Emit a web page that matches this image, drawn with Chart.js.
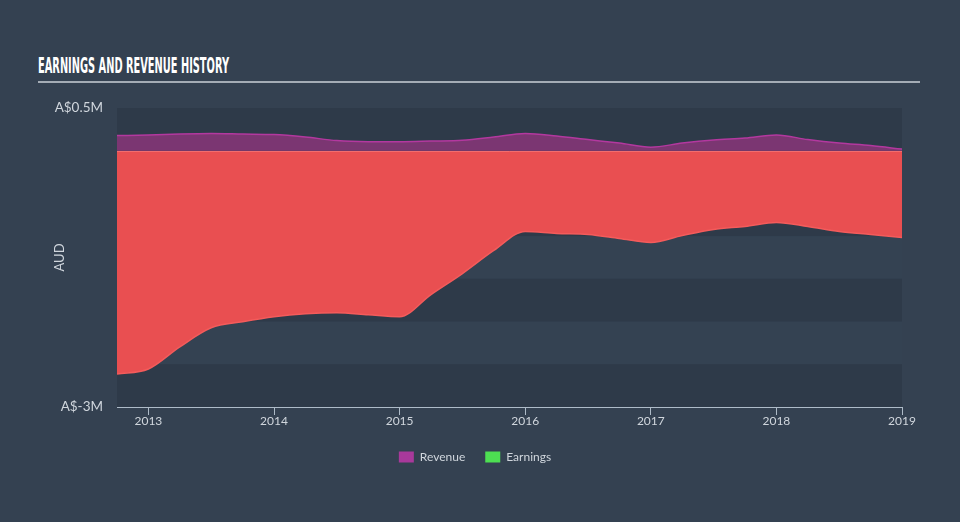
<!DOCTYPE html>
<html>
<head>
<meta charset="utf-8">
<script src="https://cdn.jsdelivr.net/npm/chart.js@4/dist/chart.umd.min.js"></script>
<style>
  html, body { margin: 0; padding: 0; background: #344151; width: 960px; height: 522px; overflow: hidden; }
  #wrap { position: relative; width: 960px; height: 522px; }
  #title { position: absolute; left: 38px; top: 55px; color: #ffffff; font-family: "Liberation Sans Narrow", "DejaVu Sans Condensed", sans-serif; font-weight: bold; font-size: 21px; line-height: 22px; white-space: nowrap; transform-origin: 0 0; }
  #rule { position: absolute; left: 38px; top: 81px; width: 882px; height: 2px; background: #a4acb5; }
  canvas { position: absolute; left: 0; top: 0; }
</style>
</head>
<body>
<div id="wrap">
  <div id="title">EARNINGS AND REVENUE HISTORY</div>
  <div id="rule"></div>
  <canvas id="c" width="960" height="522"></canvas>
</div>
<script>
// ---- data (A$ millions) ----
const periods = [2012.75, 2013.0, 2013.25, 2013.5, 2013.75, 2014.0, 2014.25, 2014.5, 2014.75, 2015.0, 2015.25, 2015.5, 2015.75, 2016.0, 2016.25, 2016.5, 2016.75, 2017.0, 2017.25, 2017.5, 2017.75, 2018.0, 2018.25, 2018.5, 2018.75, 2019.0];
const revenue = [0.177, 0.183, 0.195, 0.201, 0.195, 0.189, 0.160, 0.119, 0.106, 0.105, 0.113, 0.123, 0.160, 0.201, 0.172, 0.130, 0.089, 0.042, 0.089, 0.125, 0.148, 0.183, 0.130, 0.089, 0.060, 0.019];
const earnings = [-2.613, -2.555, -2.296, -2.073, -2.002, -1.943, -1.908, -1.896, -1.920, -1.943, -1.684, -1.438, -1.168, -0.945, -0.969, -0.980, -1.027, -1.074, -0.992, -0.921, -0.886, -0.839, -0.886, -0.945, -0.980, -1.015];
const xTickYears = [2013, 2014, 2015, 2016, 2017, 2018, 2019];
const yTickValues = [0.5, -3];
const yTickLabels = ['A$0.5M', 'A$-3M'];
const seriesNames = ['Revenue', 'Earnings'];
const legendColors = ['#a8399b', '#4ddf52'];

// fit title width
(function () {
  const t = document.getElementById('title');
  const w = t.getBoundingClientRect().width;
  t.style.transform = 'scaleX(' + (191 / w) + ')';
})();

const bandPlugin = {
  id: 'bands',
  beforeDatasetsDraw(chart) {
    const { ctx, chartArea, scales } = chart;
    const y = scales.y;
    ctx.save();
    let i = 0;
    for (let v = 0.5; v > -3; v -= 0.5, i++) {
      const top = y.getPixelForValue(v);
      const bot = y.getPixelForValue(v - 0.5);
      ctx.fillStyle = (i % 2 === 0) ? '#2e3a49' : '#344252';
      ctx.fillRect(chartArea.left, top, chartArea.right - chartArea.left, bot - top);
    }
    ctx.restore();
  },
  afterDatasetsDraw(chart) {
    const { ctx, chartArea, scales } = chart;
    const y0 = Math.round(scales.y.getPixelForValue(0)) + 0.5;
    ctx.save();
    ctx.strokeStyle = '#f26d6d';
    ctx.lineWidth = 1;
    ctx.beginPath();
    ctx.moveTo(chartArea.left, y0);
    ctx.lineTo(chartArea.right, y0);
    ctx.stroke();
    ctx.restore();
  }
};

const legendShift = {
  id: 'legendShift',
  afterLayout(chart) {
    const lg = chart.legend;
    if (lg) { lg.left += 24; lg.right += 24; }
  }
};

const tickFont = { family: 'Lato, "Open Sans", sans-serif', size: 12 };
const yTickFont = { family: 'Lato, "Open Sans", sans-serif', size: 13.5 };

new Chart(document.getElementById('c'), {
  type: 'line',
  data: {
    datasets: [
      {
        label: seriesNames[0],
        data: periods.map((p, i) => ({ x: p, y: revenue[i] })),
        borderColor: '#b3389f',
        backgroundColor: '#7b3672',
        borderWidth: 1.5,
        fill: 'origin',
        pointRadius: 0,
        tension: 0.4,
        cubicInterpolationMode: 'monotone'
      },
      {
        label: seriesNames[1],
        data: periods.map((p, i) => ({ x: p, y: earnings[i] })),
        borderColor: '#f45b5b',
        backgroundColor: '#e94f51',
        borderWidth: 1.5,
        fill: 'origin',
        pointRadius: 0,
        tension: 0.4,
        cubicInterpolationMode: 'monotone'
      }
    ]
  },
  options: {
    responsive: false,
    devicePixelRatio: 1,
    animation: false,
    layout: { padding: { top: 108, right: 58, left: 0, bottom: 49 } },
    plugins: {
      tooltip: { enabled: false },
      title: { display: false },
      legend: {
        position: 'bottom',
        labels: {
          color: '#d0d6dd',
          font: { family: 'Lato, "Open Sans", sans-serif', size: 12 },
          boxWidth: 15,
          boxHeight: 11,
          padding: 20,
          generateLabels(chart) {
            return chart.data.datasets.map((ds, i) => ({
              text: ds.label,
              fillStyle: legendColors[i],
              strokeStyle: legendColors[i],
              lineWidth: 0,
              fontColor: '#d0d6dd',
              datasetIndex: i,
              hidden: false
            }));
          }
        }
      }
    },
    scales: {
      x: {
        type: 'linear',
        min: periods[0],
        max: periods[periods.length - 1],
        afterBuildTicks(scale) { scale.ticks = xTickYears.map(v => ({ value: v })); },
        afterFit(scale) { scale.height = 24; },
        ticks: { color: '#d0d6dd', font: tickFont, padding: -1, maxRotation: 0, autoSkip: false, callback: v => String(v) },
        grid: { display: true, drawOnChartArea: false, drawTicks: true, tickLength: 8, color: '#aebbc8', lineWidth: 1 },
        border: { display: true, color: '#aebbc8', width: 1 }
      },
      y: {
        type: 'linear',
        min: -3,
        max: 0.5,
        afterBuildTicks(scale) { scale.ticks = yTickValues.map(v => ({ value: v })); },
        afterFit(scale) { scale.width = 117; },
        ticks: {
          color: '#d0d6dd', font: yTickFont, padding: 14, autoSkip: false,
          callback: (v) => yTickLabels[yTickValues.indexOf(v)]
        },
        grid: { display: false, drawTicks: false },
        border: { display: false },
        title: { display: true, text: 'AUD', color: '#d0d6dd', font: { family: 'Lato, "Open Sans", sans-serif', size: 13 }, padding: { top: 52, bottom: 0 } }
      }
    }
  },
  plugins: [bandPlugin, legendShift]
});
</script>
</body>
</html>
